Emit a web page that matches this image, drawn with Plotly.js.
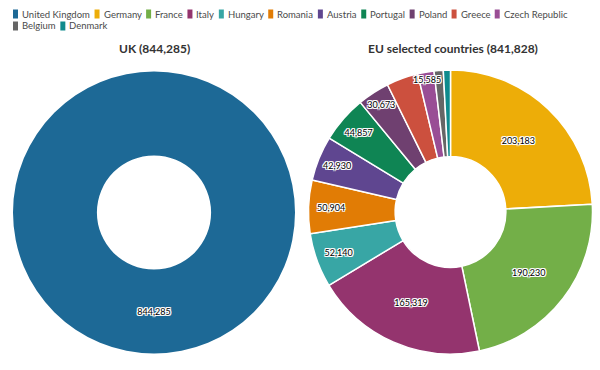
<!DOCTYPE html>
<html><head><meta charset="utf-8">
<script src="https://cdn.plot.ly/plotly-3.0.1.min.js"></script>
<style>html,body{margin:0;padding:0;background:#fff}</style>
</head><body><div id="chart" style="width:600px;height:370px"></div>
<script>
// ---- data ----
const ukCountries = ['United Kingdom'];
const ukValues = [844285];
const euCountries = ['Germany','France','Italy','Hungary','Romania','Austria','Portugal','Poland','Greece','Czech Republic','Belgium','Denmark'];
const euValues = [203183,190230,165319,52140,50904,42930,44857,30673,30400,15585,8807,6800];
const euLabelShown = [true,true,true,true,true,true,true,true,false,true,false,false];
const ukTitle = 'UK (844,285)';
const euTitle = 'EU selected countries (841,828)';
const ukColors = ['#1D6996'];
const euColors = ['#EDAD08','#73AF48','#94346E','#38A6A5','#E17C05','#5F4690','#0F8554','#6F4070','#CC503E','#994E95','#666666','#0F8B8D'];

// ---- helpers ----
const W = 600, H = 370;
const FONT = 'Lato, "Source Sans Pro", sans-serif';
const fmt = v => v.toLocaleString('en-US');
const px2x = p => p / W;
const px2y = p => 1 - p / H;
function pieDomain(cx, cy, r) {
  return {x: [px2x(cx - r), px2x(cx + r)], y: [px2y(cy + r), px2y(cy - r)]};
}

const labelFont = {
  family: FONT, size: 9, color: '#000',
  shadow: '-1px -1px 0 #fff, 1px -1px 0 #fff, -1px 1px 0 #fff, 1px 1px 0 #fff, 0 1px 0 #fff, 0 -1px 0 #fff, 1px 0 0 #fff, -1px 0 0 #fff'
};

const ukDomain = pieDomain(154, 212.5, 141);
const euDomain = pieDomain(450.5, 212, 142);

const ukPie = {
  type: 'pie', labels: ukCountries, values: ukValues,
  text: ukValues.map(fmt), textinfo: 'text', textposition: 'inside',
  insidetextorientation: 'horizontal', textfont: labelFont,
  hole: 0.405, sort: false, direction: 'clockwise',
  marker: {colors: ukColors, line: {color: '#fff', width: 0}},
  domain: ukDomain, showlegend: false, hoverinfo: 'label+value'
};
// slices
const euPie = {
  type: 'pie', labels: euCountries, values: euValues,
  textinfo: 'none',
  hole: 0.39, sort: false, direction: 'clockwise',
  marker: {colors: euColors, line: {color: '#fff', width: 1.5}},
  domain: euDomain, showlegend: false, hoverinfo: 'label+value'
};
// value labels drawn on top of all slices
const euPieLabels = {
  type: 'pie', labels: euCountries, values: euValues,
  text: euValues.map((v, i) => euLabelShown[i] ? fmt(v) : ''), textinfo: 'text', textposition: 'inside',
  insidetextorientation: 'horizontal', textfont: labelFont,
  hole: 0.39, sort: false, direction: 'clockwise',
  marker: {colors: euColors.map(() => 'rgba(0,0,0,0)'), line: {width: 0}},
  domain: euDomain, showlegend: false, hoverinfo: 'skip'
};

// ---- legend (colored swatches + names), laid out from rendered text widths ----
const legNames = ukCountries.concat(euCountries);
const legColors = ukColors.concat(euColors);
const legSize = 9.5;
const swW = 5, swH = 9, swGap = 4, itemGap = 4.5;
const legLeft = 13, legRight = 594, legTop = 14, legRowH = 12;

const titleAnns = [
  {text: '<b>' + ukTitle + '</b>', x: px2x(154), y: px2y(49), xref: 'paper', yref: 'paper', xanchor: 'center', yanchor: 'middle',
   showarrow: false, font: {family: FONT, size: 12, color: '#333'}},
  {text: '<b>' + euTitle + '</b>', x: px2x(453), y: px2y(49), xref: 'paper', yref: 'paper', xanchor: 'center', yanchor: 'middle',
   showarrow: false, font: {family: FONT, size: 12, color: '#333'}}
];

function buildLegend(widths) {
  const anns = [], shapes = [];
  let cx = legLeft, row = 0;
  legNames.forEach((n, i) => {
    const tw = widths[i];
    const itemW = swW + swGap + tw;
    if (cx + itemW > legRight && cx > legLeft) { row++; cx = legLeft; }
    const yc = legTop + row * legRowH;
    shapes.push({type: 'rect', xref: 'paper', yref: 'paper',
      x0: px2x(cx), x1: px2x(cx + swW), y0: px2y(yc + swH / 2), y1: px2y(yc - swH / 2),
      fillcolor: legColors[i], line: {width: 0}});
    anns.push({text: n, x: px2x(cx + swW + swGap - 1), y: px2y(yc),
      xref: 'paper', yref: 'paper', xanchor: 'left', yanchor: 'middle',
      showarrow: false, borderpad: 0, font: {family: FONT, size: legSize, color: '#4a4a4a'}});
    cx += itemW + itemGap;
  });
  return {anns, shapes};
}

// first pass: rough widths; second pass: widths of the rendered annotation texts
const first = buildLegend(legNames.map(n => n.length * legSize * 0.5));
const layout = {
  width: W, height: H, margin: {l: 0, r: 0, t: 0, b: 0},
  paper_bgcolor: '#fff', plot_bgcolor: '#fff',
  font: {family: FONT},
  uniformtext: {minsize: 9, mode: 'show'},
  annotations: first.anns.concat(titleAnns), shapes: first.shapes, showlegend: false
};
Plotly.newPlot('chart', [ukPie, euPie, euPieLabels], layout, {displayModeBar: false, staticPlot: true}).then(gd => {
  const widths = legNames.map((n, i) => {
    const t = gd.querySelector('.annotation[data-index="' + i + '"] .annotation-text');
    return t ? t.getBBox().width : n.length * legSize * 0.5;
  });
  const second = buildLegend(widths);
  return Plotly.relayout(gd, {annotations: second.anns.concat(titleAnns), shapes: second.shapes});
});
</script></body></html>
